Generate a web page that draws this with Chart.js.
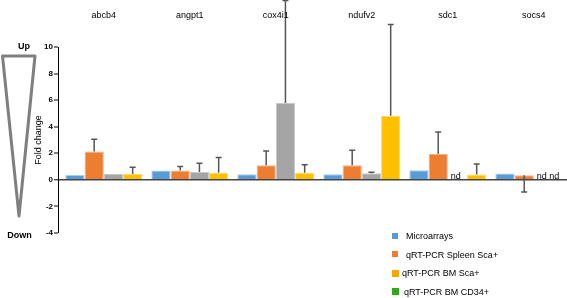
<!DOCTYPE html>
<html><head><meta charset="utf-8">
<script src="https://cdn.jsdelivr.net/npm/chart.js@4.4.1/dist/chart.umd.min.js"></script>
<style>
html,body{margin:0;padding:0;background:#fff;overflow:hidden;width:567px;height:298px;}
#wrap{position:relative;width:577px;height:298px;}
canvas{position:absolute;left:0;top:0;}
.txt{position:absolute;font-family:"Liberation Sans",Arial,sans-serif;color:#000;white-space:nowrap;}
.side{font-size:9px;font-weight:bold;transform:translate(-50%,-50%);}
#legend{position:absolute;left:392px;top:227px;font-family:"Liberation Sans",Arial,sans-serif;font-size:9px;color:#000;}
#legend .row{height:18.7px;line-height:18.7px;white-space:nowrap;}
#legend .sw{display:inline-block;width:6px;height:6px;margin-right:8px;vertical-align:middle;position:relative;top:-1px;}
</style></head>
<body>
<div id="wrap">
<canvas id="c" width="577" height="298"></canvas>
<svg width="40" height="230" style="position:absolute;left:0;top:0">
<polygon points="2.5,56 35,56 19,216" fill="none" stroke="#7f7f7f" stroke-width="3" stroke-linejoin="round"/>
</svg>
<div class="txt side" style="left:24px;top:46px">Up</div>
<div class="txt side" style="left:19.5px;top:235px">Down</div>
<div id="legend"></div>
</div>
<script>
// ---- data ----
const genes = ['abcb4', 'angpt1', 'cox4i1', 'ndufv2', 'sdc1', 'socs4'];
const seriesNames = ['Microarrays', 'qRT-PCR Spleen Sca+', 'qRT-PCR BM CD34+', 'qRT-PCR BM Sca+'];
const microarrays = [0.37, 0.70, 0.43, 0.43, 0.73, 0.47];
const spleenSca   = [2.13, 0.70, 1.10, 1.10, 1.95, 0.35];
const bmCd34      = [0.45, 0.60, 5.79, 0.50, null, null];
const bmSca       = [0.45, 0.53, 0.53, 4.83, 0.40, null];
// error bar end values (null = no error bar)
const microarraysErrEnd = [null, null, null, null, null, null];
const spleenScaErrEnd   = [3.06, 1.00, 2.18, 2.23, 3.60, -0.92];
const bmCd34ErrEnd      = [null, 1.25, 13.5, 0.58, null, null];
const bmScaErrEnd       = [0.95, 1.68, 1.13, 11.7, 1.20, null];
const yTicks = [-4, -2, 0, 2, 4, 6, 8, 10];
const legendLabels = ['Microarrays', 'qRT-PCR Spleen Sca+', 'qRT-PCR BM Sca+', 'qRT-PCR BM CD34+'];
const legendColors = ['#5b9bd5', '#ed7d31', '#f5a800', '#2eaa1a'];

const seriesValues = [microarrays, spleenSca, bmCd34, bmSca];
const seriesErrEnds = [microarraysErrEnd, spleenScaErrEnd, bmCd34ErrEnd, bmScaErrEnd];
const barColors = ['#5b9bd5', '#ed7d31', '#a5a5a5', '#ffc000'];
const barBorders = ['#a9c9ea', '#f4b183', '#c8c8c8', '#ffd966'];

// legend
const leg = document.getElementById('legend');
legendLabels.forEach((l, i) => {
  const r = document.createElement('div'); r.className = 'row';
  const s = document.createElement('span'); s.className = 'sw'; s.style.background = legendColors[i];
  if (i >= 2) { s.style.width = '7px'; s.style.height = '7px'; s.style.marginRight = (i === 2 ? '3px' : '5px'); }
  r.appendChild(s); r.appendChild(document.createTextNode(l)); leg.appendChild(r);
});

const FONT = '"Liberation Sans", Arial, sans-serif';
const overlay = {
  id: 'overlay',
  afterDatasetsDraw(chart) {
    const { ctx, scales: { x, y } } = chart;
    ctx.save();
    // error bars
    ctx.strokeStyle = '#555'; ctx.lineWidth = 1.5;
    seriesErrEnds.forEach((ends, di) => {
      const meta = chart.getDatasetMeta(di);
      ends.forEach((e, j) => {
        if (e == null || seriesValues[di][j] == null) return;
        const bx = meta.data[j].x;
        const y0 = y.getPixelForValue(seriesValues[di][j]);
        const y1 = y.getPixelForValue(e);
        ctx.beginPath(); ctx.moveTo(bx, y0); ctx.lineTo(bx, y1);
        ctx.moveTo(bx - 3, y1); ctx.lineTo(bx + 3, y1); ctx.stroke();
      });
    });
    // nd labels for missing values (consecutive missing slots share one label run)
    ctx.fillStyle = '#000'; ctx.font = '9px ' + FONT; ctx.textAlign = 'left'; ctx.textBaseline = 'alphabetic';
    const m0 = chart.getDatasetMeta(0);
    genes.forEach((g, j) => {
      const b = m0.data[j];
      let di = 0;
      while (di < seriesValues.length) {
        if (seriesValues[di][j] != null) { di++; continue; }
        const start = di; const parts = [];
        while (di < seriesValues.length && seriesValues[di][j] == null) { parts.push('nd'); di++; }
        const left = b.x - b.width / 2 + start * b.width;
        ctx.fillText(parts.join(' '), left + 3, y.getPixelForValue(0) - 0.5);
      }
    });
    // gene labels
    ctx.textAlign = 'center'; ctx.textBaseline = 'middle';
    genes.forEach((g, i) => ctx.fillText(g, x.getPixelForValue(i), 16));
    ctx.restore();
  }
};

new Chart(document.getElementById('c'), {
  type: 'bar',
  data: {
    datasets: seriesNames.map((n, di) => ({
      label: n,
      data: seriesValues[di].map((v, i) => ({ x: i, y: v })),
      backgroundColor: barColors[di],
      borderColor: barBorders[di],
      borderWidth: 1,
      borderSkipped: 'bottom'
    }))
  },
  options: {
    responsive: false,
    animation: false,
    layout: { padding: { top: 47, bottom: 65, left: 0, right: 0 } },
    categoryPercentage: 0.895,
    barPercentage: 1,
    plugins: { legend: { display: false }, tooltip: { enabled: false } },
    scales: {
      x: { type: 'linear', display: false, offset: false, min: -0.5326, max: 5.502 },
      y: {
        min: -4, max: 10,
        afterBuildTicks(s) { s.ticks = yTicks.map(v => ({ value: v })); },
        ticks: { font: { size: 8, weight: 'bold', family: FONT }, color: '#000', padding: 1 },
        grid: {
          color: c => c.tick && c.tick.value === 0 ? '#444' : 'rgba(0,0,0,0)',
          lineWidth: c => c.tick && c.tick.value === 0 ? 1.5 : 0,
          tickColor: '#000', tickWidth: 1, tickLength: 4
        },
        border: { color: '#000', width: 1 },
        title: { display: true, text: 'Fold change', font: { size: 9, family: FONT }, color: '#000', padding: { top: 33, bottom: 0 } },
        afterFit(s) { s.width = 58; }
      }
    }
  },
  plugins: [overlay]
});
</script>
</body></html>
